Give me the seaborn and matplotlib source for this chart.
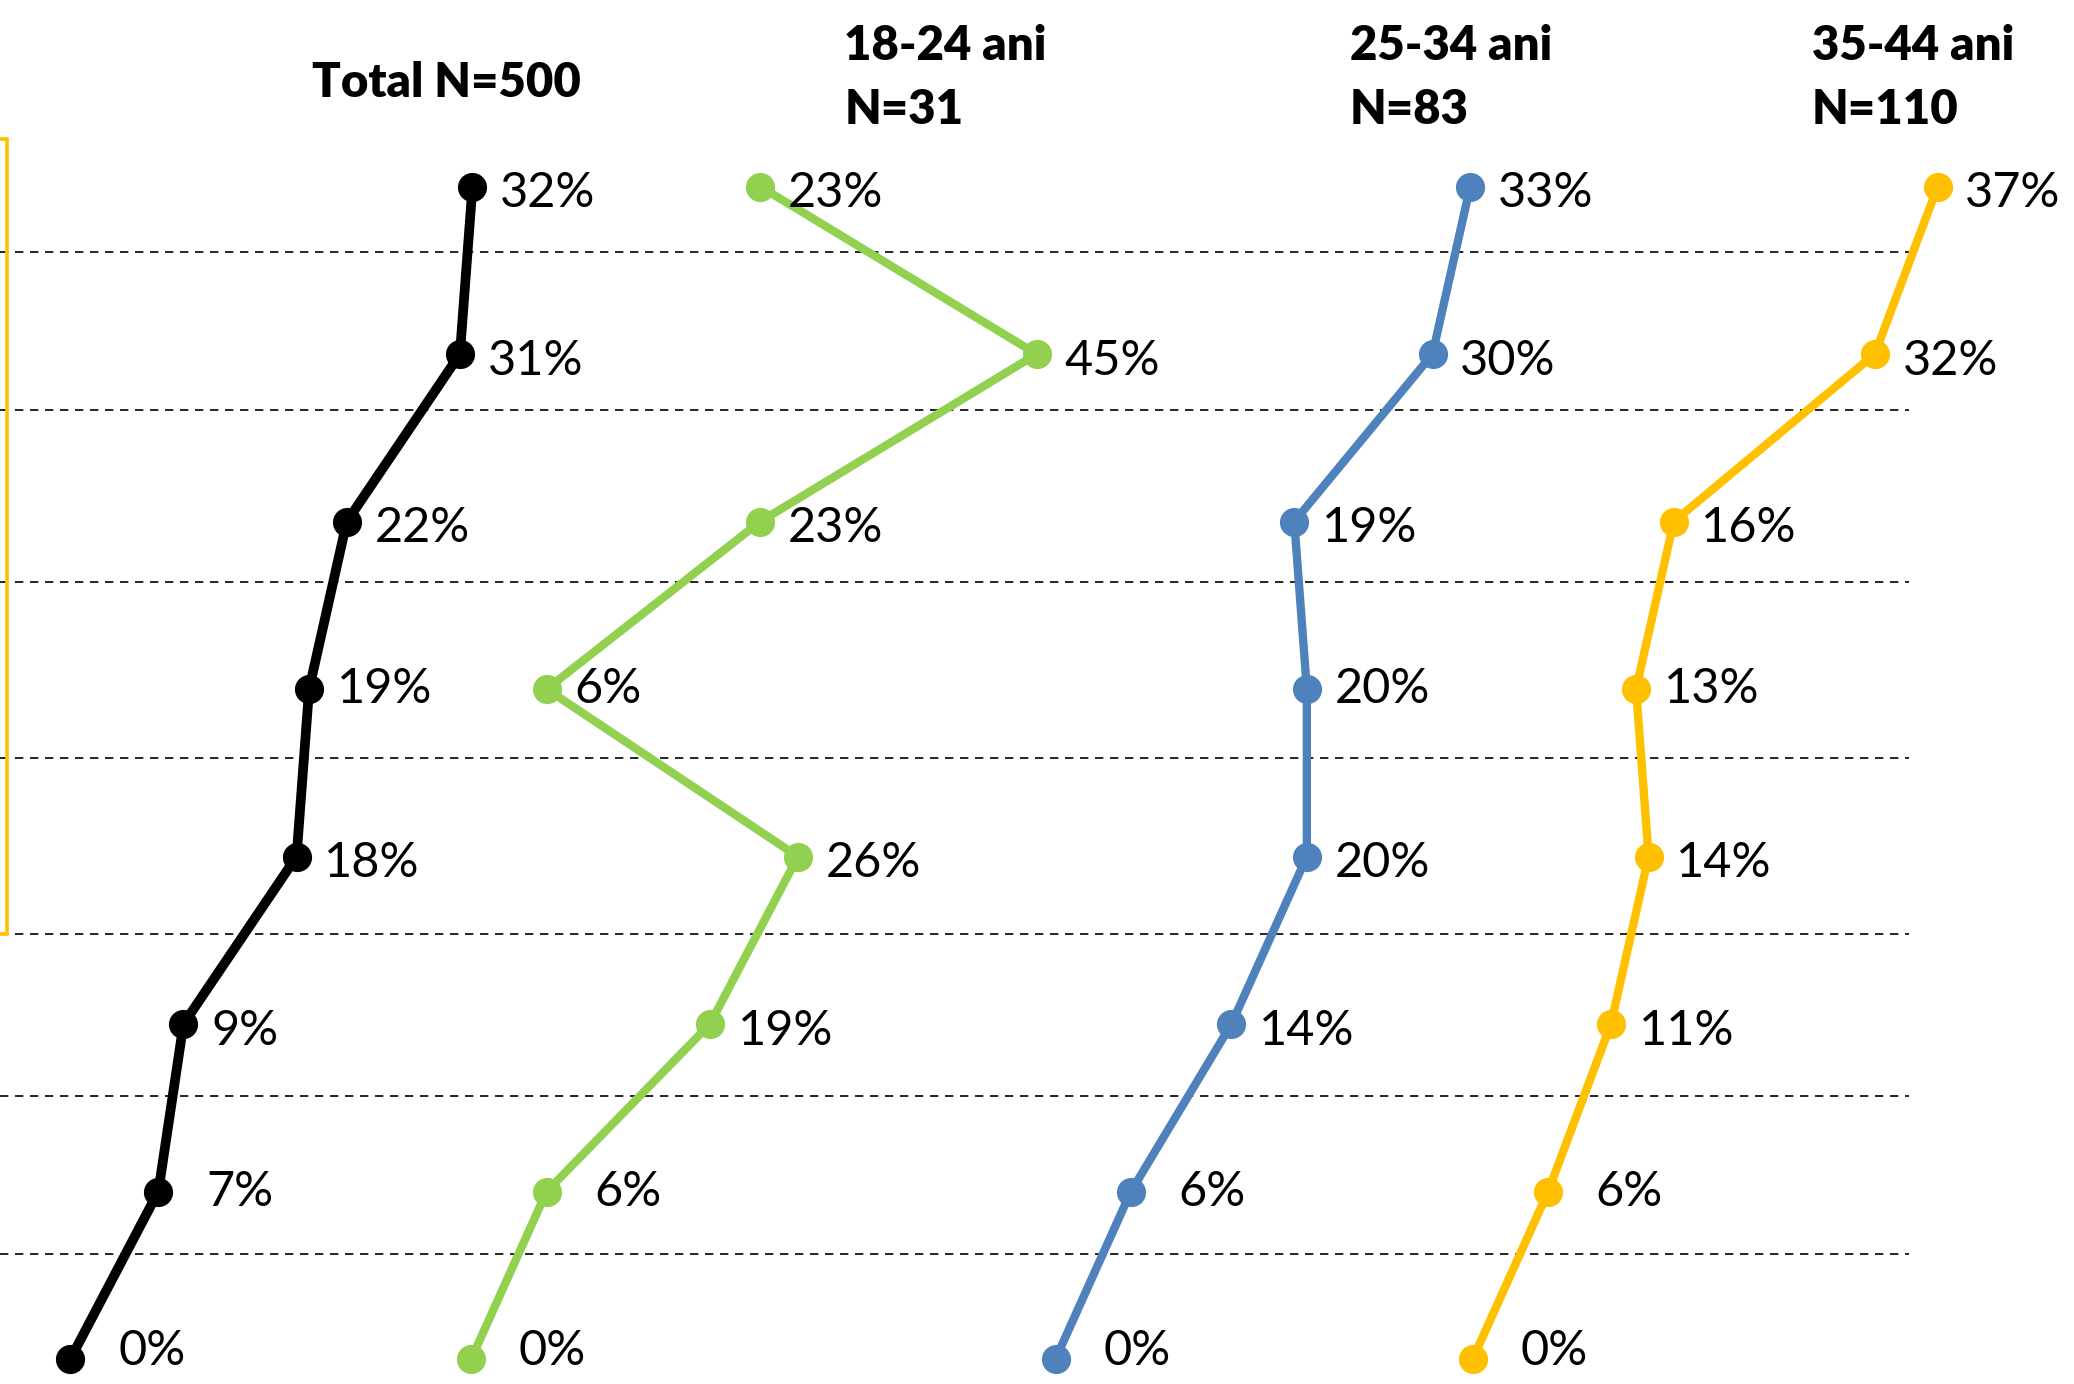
import matplotlib.pyplot as plt
import matplotlib.patches as patches
import seaborn as sns
import pandas as pd

# values per row (top to bottom), percent
rows = [0, 1, 2, 3, 4, 5, 6, 7]
total = [32, 31, 22, 19, 18, 9, 7, 0]
age_18_24 = [23, 45, 23, 6, 26, 19, 6, 0]
age_25_34 = [33, 30, 19, 20, 20, 14, 6, 0]
age_35_44 = [37, 32, 16, 13, 14, 11, 6, 0]

series = [total, age_18_24, age_25_34, age_35_44]
titles = [["Total N=500"], ["18-24 ani", "N=31"], ["25-34 ani", "N=83"], ["35-44 ani", "N=110"]]
colors = ["#000000", "#92D050", "#4F81BD", "#FFC000"]

# layout (x in percent units, each panel shifted)
panel_offsets = [5.6, 37.5, 84.0, 117.2]
line_widths = [7.0, 6.0, 6.0, 6.0]
label_gap = [2.2, 2.2, 2.2, 2.2, 2.2, 2.2, 3.8, 3.8]
label_shift = [0.04, 0.04, 0.04, 0.0, 0.04, 0.04, 0.0, -0.05]
separators = [0.39, 1.335, 2.36, 3.41, 4.46, 5.43, 6.37]

sns.set_style("white")
plt.rcParams['font.family'] = ['Liberation Sans Narrow', 'Lato', 'DejaVu Sans']

fig = plt.figure(figsize=(20.74, 13.84), dpi=100)
ax = fig.add_axes([0, 0, 1, 1])

for y in separators:
    ax.plot([0, 151.9], [y, y], color="black", lw=1.2, ls=(0, (5, 4)), zorder=1)

# gold frame edge at the left
ax.add_patch(patches.Rectangle((-5, -0.284), 5.55, 4.744, fill=False,
                               edgecolor="#FFC000", lw=2.6, clip_on=False))

for vals, off, color, lw in zip(series, panel_offsets, colors, line_widths):
    df = pd.DataFrame({'x': [v + off for v in vals], 'row': rows})
    sns.lineplot(data=df, x='x', y='row', sort=False, estimator=None, color=color,
                 lw=lw, marker='o', markersize=21, markeredgewidth=0, ax=ax,
                 zorder=3, clip_on=False)
    for v, r in zip(vals, rows):
        ax.text(v + off + label_gap[r], r + label_shift[r], f"{v}%", ha='left', va='center',
                fontsize=35, color='black')

# panel headers
ax.text(35.5, -0.616, titles[0][0], ha='center', va='center', fontsize=34,
        fontweight='heavy', color='black')
for off_x, t in zip([67.2, 107.4, 144.2], titles[1:]):
    ax.text(off_x, -0.837, t[0], ha='left', va='center', fontsize=34,
            fontweight='heavy', color='black')
    ax.text(off_x, -0.458, t[1], ha='left', va='center', fontsize=34,
            fontweight='heavy', color='black')

ax.set_xlim(0, 165.05)
ax.set_ylim(7.149, -1.114)
ax.axis('off')

fig.savefig("out.png", dpi=100)
